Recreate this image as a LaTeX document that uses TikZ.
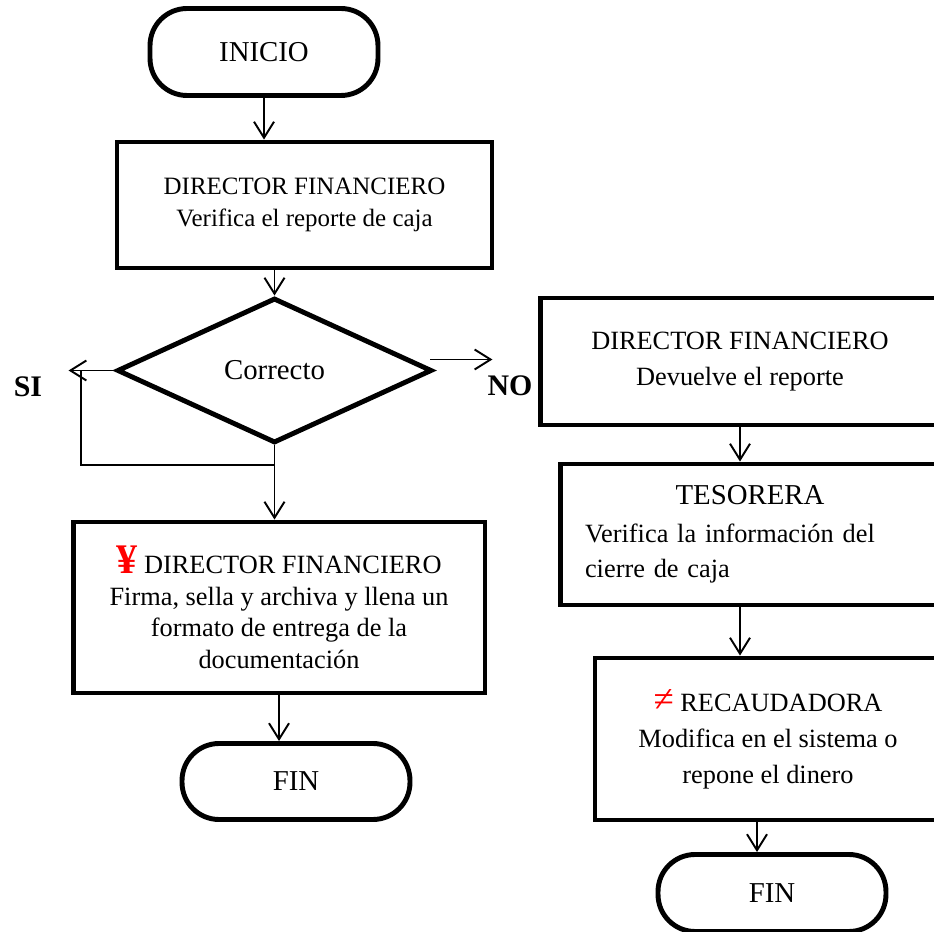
\documentclass[tikz,border=0pt]{standalone}
\usepackage{fontspec}
\setmainfont{Liberation Serif}
\usetikzlibrary{shapes.geometric,arrows.meta}

\begin{document}
\begin{tikzpicture}[x=0.02cm,y=-0.02cm,
  >={Straight Barb[length=3.2mm,width=4mm]},
  term/.style={draw,line width=2.8pt,rounded corners=0.74cm,inner sep=0pt,
    font=\fontsize{16.4}{19}\selectfont},
  proc/.style={draw,line width=2.8pt,inner sep=0pt,align=center,
    font=\fontsize{15}{18}\selectfont},
  arr/.style={->,line width=1.1pt}]
\useasboundingbox (0,0) rectangle (934,932);
\clip (0,0) rectangle (934,932);
% left column: check of the cash report
\node[term,minimum width=4.56cm,minimum height=1.74cm] (ini) at (264,52) {INICIO};
\node[proc,minimum width=7.5cm,minimum height=2.52cm,font=\fontsize{14.2}{18}\selectfont]
  (D1) at (304.5,205) {DIRECTOR FINANCIERO\\Verifica el reporte de caja};
\node[draw,diamond,line width=2.8pt,minimum width=6.3cm,minimum height=2.9cm,inner sep=0pt,
  font=\fontsize{16.4}{19}\selectfont] (dec) at (274.5,370.5) {Correcto};
\node[proc,minimum width=8.24cm,minimum height=3.42cm] (D2) at (279,607.5)
  {{\color{red}\bfseries\fontsize{24}{18}\selectfont ¥} DIRECTOR FINANCIERO\\
   Firma, sella y archiva y llena un\\formato de entrega de la\\documentación};
\node[term,minimum width=4.56cm,minimum height=1.52cm] (finL) at (296,781.5) {FIN};
\node[font=\bfseries\fontsize{17}{20}\selectfont] (si) at (28,387) {SI};
\node[font=\bfseries\fontsize{17}{20}\selectfont] (no) at (510,386) {NO};
% right column: report sent back
\node[proc,minimum width=8cm,minimum height=2.54cm,font=\fontsize{15}{20.4}\selectfont]
  (D3) at (740,361.5) {DIRECTOR FINANCIERO\\Devuelve el reporte};
\node[proc,minimum width=7.6cm,minimum height=2.82cm,text width=6.6cm,align=left,
  font=\fontsize{15}{19.8}\selectfont] (tes) at (750,534.5)
  {\noindent\makebox[6.6cm]{\fontsize{16.4}{19}\selectfont TESORERA}\\[2pt]
   Verifica la información del\\cierre de caja};
\node[proc,minimum width=6.92cm,minimum height=3.24cm,font=\fontsize{15}{20.4}\selectfont]
  (rec) at (768,739) {{\color{red}\fontsize{21}{20}\selectfont ≠} RECAUDADORA\\
   Modifica en el sistema o\\repone el dinero};
\node[term,minimum width=4.56cm,minimum height=1.54cm] (finR) at (772,893) {FIN};
% connectors
\draw[arr] (ini) -- (ini |- D1.north);
\draw[arr] (dec.north |- D1.south) -- (dec.north);
\draw[arr] (dec.west) -- ++(-46,0);
\coordinate (sibend) at (81,465);
\draw[line width=1.1pt] (sibend |- dec.west) -- (sibend) -- (sibend -| dec.south);
\draw[arr] (dec.south) -- (dec.south |- D2.north);
\draw[arr] (D2.south) -- (D2.south |- finL.north);
\draw[arr] ([shift={(-4,-11)}]dec.east) -- ++(62,0);
\draw[arr] (D3.south) -- (D3.south |- tes.north);
\draw[arr] (D3.south |- tes.south) -- (D3.south |- rec.north);
\draw[arr] ([xshift=-0.22cm]rec.south) -- ([xshift=-0.22cm]rec.south |- finR.north);
\end{tikzpicture}
\end{document}
